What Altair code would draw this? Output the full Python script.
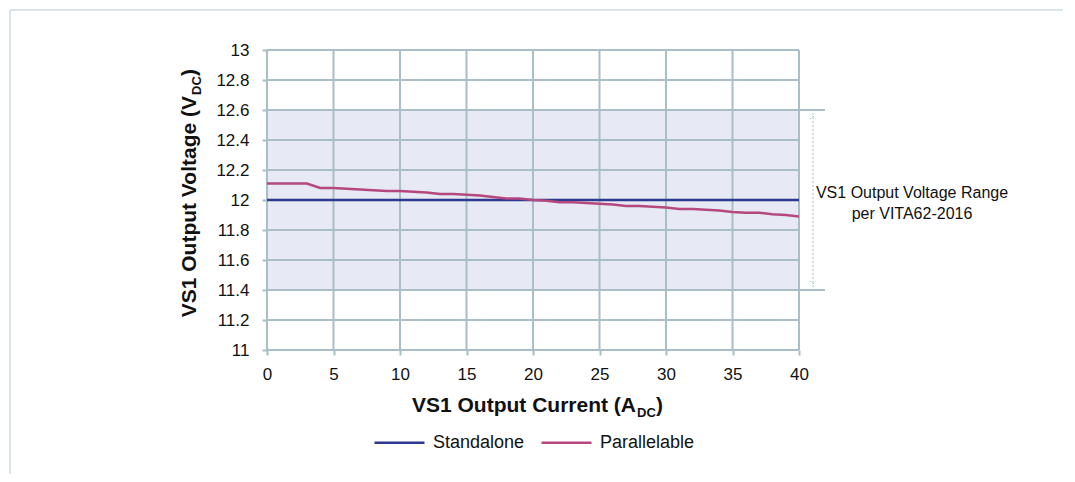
import altair as alt
import pandas as pd

current = list(range(0, 41))
standalone = [12.0] * 41
parallelable = [12.11, 12.11, 12.11, 12.11, 12.08, 12.08, 12.075, 12.07, 12.065, 12.06,
                12.06, 12.055, 12.05, 12.04, 12.04, 12.035, 12.03, 12.02, 12.01, 12.01,
                12.0, 11.995, 11.985, 11.985, 11.98, 11.975, 11.97, 11.96, 11.96, 11.955,
                11.95, 11.94, 11.94, 11.935, 11.93, 11.92, 11.915, 11.915, 11.905, 11.9, 11.89]
series_names = ["Standalone", "Parallelable"]
series_colors = ["#2b3990", "#b5487e"]
band_low = [11.4]
band_high = [12.6]
x_ticks = [0, 5, 10, 15, 20, 25, 30, 35, 40]
y_ticks = [11.0, 11.2, 11.4, 11.6, 11.8, 12.0, 12.2, 12.4, 12.6, 12.8, 13.0]
note_lines = ["VS1 Output Voltage Range", "per VITA62-2016"]

FONT = "Liberation Sans"
GRID = "#a9bec6"
W, H = 532, 300

df = pd.DataFrame({
    "I": current * 2,
    "V": standalone + parallelable,
    "s": ["Standalone"] * 41 + ["Parallelable"] * 41,
})
band_df = pd.DataFrame({"x0": [x_ticks[0]], "x1": [x_ticks[-1]], "lo": band_low, "hi": band_high})

xs = alt.Scale(domain=[0, 40], nice=False)
ys = alt.Scale(domain=[11, 13], nice=False)

x_axis = alt.Axis(values=x_ticks, grid=False, domain=False, labelPadding=11, title=None)
y_axis = alt.Axis(values=y_ticks, grid=False, domain=False, labelPadding=13, format=".1~f",
                  title=None)

band = alt.Chart(band_df).mark_rect(color="#e7e9f5").encode(
    x=alt.X("x0:Q", scale=xs, axis=x_axis),
    x2="x1:Q",
    y=alt.Y("lo:Q", scale=ys, axis=y_axis),
    y2="hi:Q",
)

vgrid = alt.Chart(pd.DataFrame({"x": x_ticks})).mark_rule(color=GRID, strokeWidth=2).encode(
    x=alt.X("x:Q", scale=xs, axis=x_axis))
hgrid = alt.Chart(pd.DataFrame({"y": y_ticks})).mark_rule(color=GRID, strokeWidth=2).encode(
    y=alt.Y("y:Q", scale=ys, axis=y_axis))

lines = alt.Chart(df).mark_line(strokeWidth=2.5).encode(
    x=alt.X("I:Q", scale=xs, axis=x_axis),
    y=alt.Y("V:Q", scale=ys, axis=y_axis),
    color=alt.Color("s:N", scale=alt.Scale(domain=series_names, range=series_colors),
                    sort=series_names,
                    legend=alt.Legend(orient="none", legendX=106, legendY=366, direction="horizontal",
                                      title=None, symbolType="stroke", symbolSize=2500,
                                      symbolStrokeWidth=2.5, labelFont=FONT, labelFontSize=18,
                                      labelColor="#111", columnPadding=11, labelOffset=7)),
    detail="s:N",
)

# bracket extensions & dashed arrow
ext = alt.Chart(band_df).mark_rule(color=GRID, strokeWidth=2).encode(
    x=alt.value(W), x2=alt.value(W + 26), y=alt.Y("lo:Q", scale=ys, axis=y_axis))
ext2 = alt.Chart(band_df).mark_rule(color=GRID, strokeWidth=2).encode(
    x=alt.value(W), x2=alt.value(W + 26), y=alt.Y("hi:Q", scale=ys, axis=y_axis))
arrow = alt.Chart(band_df).mark_rule(color=GRID, strokeWidth=1, strokeDash=[2, 2]).encode(
    x=alt.value(W + 14), y=alt.value(63), y2=alt.value(237))
head_top = alt.Chart(band_df).mark_point(shape="M-1,1L0,0L1,1", size=40, color=GRID,
                                         strokeWidth=1, strokeDash=[2, 2], filled=False,
                                         opacity=1).encode(
    x=alt.value(W + 14), y=alt.value(66))
head_bot = alt.Chart(band_df).mark_point(shape="M-1,-1L0,0L1,-1", size=40, color=GRID,
                                         strokeWidth=1, strokeDash=[2, 2], filled=False,
                                         opacity=1).encode(
    x=alt.value(W + 14), y=alt.value(234))


def txt(s, x, y, size, bold=True, align="left", angle=0, baseline="alphabetic"):
    return alt.Chart(band_df).mark_text(text=s, font=FONT, fontSize=size,
                                        fontWeight="bold" if bold else "normal",
                                        color="#111", align=align, baseline=baseline,
                                        angle=angle).encode(x=alt.value(x), y=alt.value(y))


note = txt(note_lines[0], 645, 143, 16, bold=False, align="center", baseline="middle") + \
       txt(note_lines[1], 645, 164, 16, bold=False, align="center", baseline="middle")

# titles with subscripts
xt = txt("VS1 Output Current (A", 369, 362, 21, align="right") + \
     txt("DC", 370, 367, 13) + txt(")", 389, 362, 21)
yt = txt("VS1 Output Voltage (V", -71, 46, 21, align="right", angle=270) + \
     txt("DC", -66, 45, 13, angle=270) + txt(")", -71, 26, 21, angle=270)

frame_top = alt.Chart(band_df).mark_rule(color="#cfdce2", strokeWidth=1.5).encode(
    x=alt.value(-257), x2=alt.value(800), y=alt.value(-40))
frame_left = alt.Chart(band_df).mark_rule(color="#cfdce2", strokeWidth=1.5).encode(
    x=alt.value(-257), y=alt.value(-40), y2=alt.value(430))

chart = alt.layer(band, vgrid, hgrid, lines, ext, ext2, arrow, head_top, head_bot, note,
                  xt, yt, frame_top, frame_left).properties(
    width=W, height=H, autosize="none",
    padding={"left": 259, "top": 42, "right": 264, "bottom": 124},
).configure_view(stroke=None).configure_axis(
    labelOverlap=False, labelFlush=False, labelFont=FONT, labelFontSize=17, labelColor="#111",
    tickColor=GRID, tickSize=5, tickWidth=2,
)

chart.save("out.html", embed_options={"renderer": "svg", "actions": False})
